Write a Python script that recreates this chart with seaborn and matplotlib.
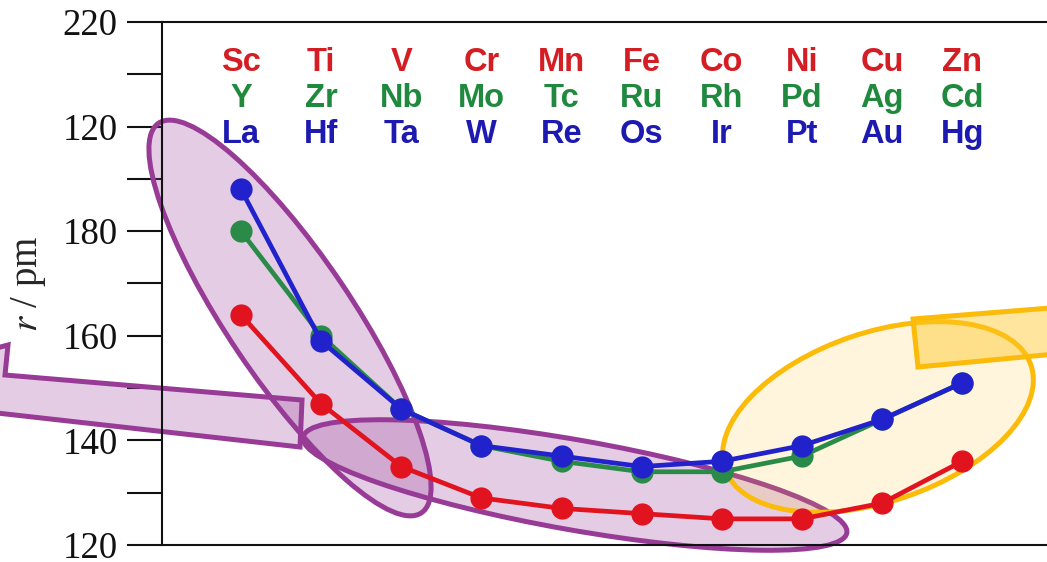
import numpy as np
import pandas as pd
import seaborn as sns
import matplotlib.pyplot as plt
from matplotlib.patches import Ellipse, Polygon
from matplotlib.transforms import Affine2D

# element symbols per row
row_3d = ['Sc', 'Ti', 'V', 'Cr', 'Mn', 'Fe', 'Co', 'Ni', 'Cu', 'Zn']
row_4d = ['Y', 'Zr', 'Nb', 'Mo', 'Tc', 'Ru', 'Rh', 'Pd', 'Ag', 'Cd']
row_5d = ['La', 'Hf', 'Ta', 'W', 'Re', 'Os', 'Ir', 'Pt', 'Au', 'Hg']

# metallic radii (pm)
r_3d = [164, 147, 135, 129, 127, 126, 125, 125, 128, 136]
r_4d = [180, 160, 146, 139, 136, 134, 134, 137, 144, 151]
r_5d = [188, 159, 146, 139, 137, 135, 136, 139, 144, 151]

yticks = [120, 140, 160, 180, 200, 220]
ytick_labels = ['120', '140', '160', '180', '120', '220']

rows = ['3d', '4d', '5d']
colors = {'3d': '#e0131f', '4d': '#2a8a48', '5d': '#2222cc'}
text_colors = {'3d': '#d41e24', '4d': '#1f8a3e', '5d': '#1c1ab0'}

df = pd.concat([
    pd.DataFrame({'pos': np.arange(len(r)), 'r': r, 'row': name})
    for name, r in zip(rows, [r_3d, r_4d, r_5d])
], ignore_index=True)

sns.set_style('ticks')
plt.rcParams['font.family'] = ['Liberation Serif', 'DejaVu Serif']
plt.rcParams['mathtext.fontset'] = 'stix'

W, H = 1047, 562
fig = plt.figure(figsize=(W / 100, H / 100), dpi=100)
ax = fig.add_axes([162 / W, 17 / H, (1100 - 162) / W, 523 / H])

sns.lineplot(data=df, x='pos', y='r', hue='row', hue_order=rows, palette=colors,
             marker='o', markersize=16, markeredgewidth=0, linewidth=3.4,
             legend=False, ax=ax, zorder=3)

ax.set_xlim(-0.986, 10.72)
ax.set_ylim(120, 220)
ax.set_xticks([])
ax.set_yticks(yticks)
ax.set_yticklabels(ytick_labels)
ax.set_yticks(np.arange(130, 220, 20), minor=True)
ax.tick_params(axis='y', which='both', length=25, width=1.5, direction='out',
               pad=7, labelsize=26.5, colors='#111111')
ax.spines['right'].set_visible(False)
for s in ['left', 'top', 'bottom']:
    ax.spines[s].set_linewidth(1.5)
    ax.spines[s].set_color('#111111')
ax.set_xlabel('')
ax.set_ylabel('$r$ / pm', fontsize=28, labelpad=10)

# element symbols above the curves
for names, name, y in zip([row_3d, row_4d, row_5d], rows, [212.2, 205.4, 198.5]):
    for i, sym in enumerate(names):
        ax.text(i, y, sym, color=text_colors[name], fontsize=23.5, fontweight='bold',
                family='Liberation Sans', ha='center', va='center')

# highlight shapes, in picture pixels (y measured from the top)
px = Affine2D().scale(0.01) + fig.dpi_scale_trans


def P(x, y):
    return (x, H - y)


purple = '#973b97'
yellow = '#fbbb08'
pfill = (0.59, 0.23, 0.59, 0.25)

ax.add_patch(Ellipse(P(290, 318), 470, 124, angle=-56, transform=px, clip_on=False,
                     facecolor=pfill, edgecolor=purple, lw=3.6, zorder=1))
ax.add_patch(Ellipse(P(575, 485), 552, 90, angle=-10, transform=px, clip_on=False,
                     facecolor=pfill, edgecolor=purple, lw=3.6, zorder=1))
ax.add_patch(Ellipse(P(878, 417), 323, 169, angle=18.7, transform=px, clip_on=False,
                     facecolor=(1.0, 0.76, 0.1, 0.15), edgecolor=yellow, lw=3.6, zorder=1))

ax.add_patch(Polygon([P(302, 400), P(5, 375), P(8, 345), P(-200, 400), P(-5, 455),
                      P(-3, 413), P(300, 447)], closed=True, transform=px, clip_on=False,
                     facecolor=pfill, edgecolor=purple, lw=3.6, zorder=1))
ax.add_patch(Polygon([P(913, 319), P(1150, 300), P(1150, 345), P(918, 367)],
                     closed=True, transform=px, clip_on=False,
                     facecolor=(1.0, 0.78, 0.15, 0.45), edgecolor=yellow, lw=3.6, zorder=1))

fig.savefig('out.png', dpi=100)
